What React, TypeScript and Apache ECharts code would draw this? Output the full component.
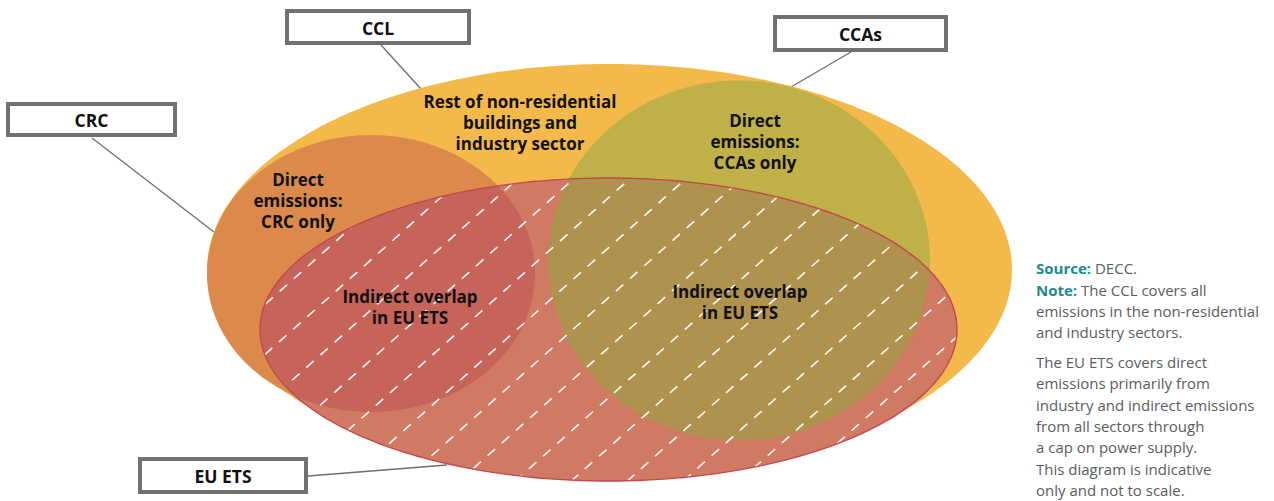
import React, { useEffect, useRef } from "react";
import * as echarts from "echarts";

// ---------------- data ----------------
// The four schemes drawn as ellipses (diagram units = chart axis units)
const setNames = ["CCL", "CRC", "CCAs", "EU ETS"];
const setCenterX = [609.5, 371, 739, 608.5];
const setCenterY = [270, 273.5, 260.5, 329.5];
const setRadiusX = [402.5, 164, 191, 348.5];
const setRadiusY = [206, 138.5, 180, 151.5];
const setColors = ["#F4B94B", "#DB8A4B", "#BFB047", "#D07963"];
// overlaps of EU ETS with CRC and with CCAs
const overlapPairs = [[1, 3], [2, 3]];
const overlapColors = ["#C6645A", "#B0924F"];

// region labels
const regionTexts = [
  "Rest of non-residential\nbuildings and\nindustry sector",
  "Direct\nemissions:\nCRC only",
  "Direct\nemissions:\nCCAs only",
  "Indirect overlap\nin EU ETS",
  "Indirect overlap\nin EU ETS",
];
const regionX = [520, 298, 755, 410, 740];
const regionY = [122, 200, 141, 307, 302];

// boxed scheme labels and their leader lines
const boxLabels = ["CRC", "CCL", "CCAs", "EU ETS"];
const boxLeft = [8, 287, 775, 140];
const boxTop = [104, 11, 17, 459];
const boxWidth = [167, 182, 171, 166];
const boxHeight = [31, 32, 33, 33];
const leaderX1 = [92, 381, 851, 308];
const leaderY1 = [138, 45, 52, 476];
const leaderX2 = [214, 421, 791, 447];
const leaderY2 = [232, 89, 87, 465];

// notes
const notesBlock1 = [
  "{b|Source:} DECC.",
  "{b|Note:} The CCL covers all",
  "emissions in the non-residential",
  "and industry sectors.",
];
const notesBlock2 = [
  "The EU ETS covers direct",
  "emissions primarily from",
  "industry and indirect emissions",
  "from all sectors through",
  "a cap on power supply.",
  "This diagram is indicative",
  "only and not to scale.",
];

// hatch pattern inside EU ETS
const HATCH_SLOPE = 1.12; // x + k*y = c
const HATCH_SPACING = 56;
const HATCH_C0 = 46;
const HATCH_DASH = [10, 9];
const HATCH_YREF = 443.3;

// ---------------- geometry helpers ----------------
type Pt = [number, number];

function ellipsePoints(i: number, n = 260): Pt[] {
  const pts: Pt[] = [];
  for (let k = 0; k < n; k++) {
    const t = (2 * Math.PI * k) / n;
    pts.push([
      setCenterX[i] + setRadiusX[i] * Math.cos(t),
      setCenterY[i] + setRadiusY[i] * Math.sin(t),
    ]);
  }
  return pts;
}

function clipPolygon(subject: Pt[], clip: Pt[]): Pt[] {
  let output = subject;
  for (let i = 0; i < clip.length; i++) {
    const a = clip[i];
    const b = clip[(i + 1) % clip.length];
    const input = output;
    output = [];
    if (!input.length) break;
    const side = (p: Pt) =>
      (b[0] - a[0]) * (p[1] - a[1]) - (b[1] - a[1]) * (p[0] - a[0]);
    const inter = (p: Pt, q: Pt): Pt => {
      const d1 = side(p);
      const d2 = side(q);
      const t = d1 / (d1 - d2);
      return [p[0] + t * (q[0] - p[0]), p[1] + t * (q[1] - p[1])];
    };
    for (let j = 0; j < input.length; j++) {
      const cur = input[j];
      const prev = input[(j + input.length - 1) % input.length];
      const ci = side(cur) >= 0;
      const pi = side(prev) >= 0;
      if (ci) {
        if (!pi) output.push(inter(prev, cur));
        output.push(cur);
      } else if (pi) {
        output.push(inter(prev, cur));
      }
    }
  }
  return output;
}

function hatchSegments(i: number) {
  const cx = setCenterX[i], cy = setCenterY[i], rx = setRadiusX[i], ry = setRadiusY[i];
  const K = HATCH_SLOPE;
  const half = Math.sqrt(rx * rx + K * K * ry * ry);
  const cMin = cx + K * cy - half;
  const cMax = cx + K * cy + half;
  const segs: { a: Pt; b: Pt; y0: number }[] = [];
  const kStart = Math.ceil((cMin - HATCH_C0) / HATCH_SPACING);
  for (let n = kStart; HATCH_C0 + n * HATCH_SPACING < cMax; n++) {
    const c = HATCH_C0 + n * HATCH_SPACING;
    const A = c - cx;
    const qa = (K * K) / (rx * rx) + 1 / (ry * ry);
    const qb = (-2 * A * K) / (rx * rx) - (2 * cy) / (ry * ry);
    const qc = (A * A) / (rx * rx) + (cy * cy) / (ry * ry) - 1;
    const disc = qb * qb - 4 * qa * qc;
    if (disc <= 0) continue;
    const s = Math.sqrt(disc);
    const yTop = (-qb - s) / (2 * qa);
    const yBot = (-qb + s) / (2 * qa);
    if (yBot - yTop < 2) continue;
    segs.push({ a: [c - K * yBot, yBot], b: [c - K * yTop, yTop], y0: yBot });
  }
  return segs;
}

// ---------------- layers ----------------
type Layer =
  | { kind: "set"; set: number; color: string }
  | { kind: "overlap"; pair: number[]; color: string }
  | { kind: "hatch"; set: number }
  | { kind: "border"; set: number; color: string }
  | { kind: "label"; idx: number };

const layers: Layer[] = [
  { kind: "set", set: 0, color: setColors[0] },
  { kind: "set", set: 1, color: setColors[1] },
  { kind: "set", set: 2, color: setColors[2] },
  { kind: "set", set: 3, color: setColors[3] },
  { kind: "overlap", pair: overlapPairs[0], color: overlapColors[0] },
  { kind: "overlap", pair: overlapPairs[1], color: overlapColors[1] },
  { kind: "hatch", set: 3 },
  { kind: "border", set: 3, color: "#C4474C" },
  ...regionTexts.map((_, idx) => ({ kind: "label", idx } as Layer)),
];

const FONT = "'Open Sans', 'DejaVu Sans', sans-serif";

export default function App() {
  const ref = useRef<HTMLDivElement>(null);

  useEffect(() => {
    if (!ref.current) return;
    const chart = echarts.init(ref.current, undefined, { renderer: "svg" });

    const renderItem = (params: any, api: any) => {
      const layer = layers[params.dataIndex];
      const map = (p: Pt) => api.coord(p);
      if (layer.kind === "set") {
        return {
          type: "polygon",
          shape: { points: ellipsePoints(layer.set).map(map) },
          style: { fill: layer.color, stroke: null },
          silent: true,
        };
      }
      if (layer.kind === "overlap") {
        const pts = clipPolygon(ellipsePoints(layer.pair[0]), ellipsePoints(layer.pair[1]));
        return {
          type: "polygon",
          shape: { points: pts.map(map) },
          style: { fill: layer.color, stroke: null },
          silent: true,
        };
      }
      if (layer.kind === "hatch") {
        const L = Math.sqrt(1 + HATCH_SLOPE * HATCH_SLOPE);
        const period = HATCH_DASH[0] + HATCH_DASH[1];
        return {
          type: "group",
          silent: true,
          children: hatchSegments(layer.set).map((s) => {
            const a = map(s.a);
            const b = map(s.b);
            const sStart = (HATCH_YREF - s.y0) * L;
            const off = ((sStart % period) + period) % period;
            return {
              type: "line",
              shape: { x1: a[0], y1: a[1], x2: b[0], y2: b[1] },
              style: {
                stroke: "#FFFFFF",
                lineWidth: 1.6,
                lineDash: HATCH_DASH,
                lineDashOffset: off,
                opacity: 0.95,
              },
            };
          }),
        };
      }
      if (layer.kind === "border") {
        return {
          type: "polygon",
          shape: { points: ellipsePoints(layer.set).map(map) },
          style: { fill: null, stroke: layer.color, lineWidth: 1.4 },
          silent: true,
        };
      }
      // label
      const p = map([regionX[layer.idx], regionY[layer.idx]]);
      return {
        type: "text",
        x: p[0],
        y: p[1],
        silent: true,
        style: {
          text: regionTexts[layer.idx],
          fill: "#111111",
          fontFamily: FONT,
          fontWeight: "bold",
          fontSize: 17,
          lineHeight: 21,
          align: "center",
          verticalAlign: "middle",
          textAlign: "center",
          textVerticalAlign: "middle",
        },
      };
    };

    const graphics: any[] = [];
    boxLabels.forEach((lab, i) => {
      graphics.push({
        type: "line",
        silent: true,
        shape: { x1: leaderX1[i], y1: leaderY1[i], x2: leaderX2[i], y2: leaderY2[i] },
        style: { stroke: "#6D6E70", lineWidth: 1.3 },
        z: 1,
      });
    });
    boxLabels.forEach((lab, i) => {
      graphics.push({
        type: "rect",
        silent: true,
        shape: { x: boxLeft[i], y: boxTop[i], width: boxWidth[i], height: boxHeight[i] },
        style: { fill: "#FFFFFF", stroke: "#707173", lineWidth: 4 },
        z: 3,
      });
      graphics.push({
        type: "text",
        silent: true,
        x: boxLeft[i] + boxWidth[i] / 2,
        y: boxTop[i] + boxHeight[i] / 2 + 0.5,
        style: {
          text: lab,
          fill: "#111111",
          fontFamily: FONT,
          fontWeight: "bold",
          fontSize: 17.5,
          align: "center",
          verticalAlign: "middle",
        },
        z: 4,
      });
    });
    const noteStyle = (lines: string[], y: number) => ({
      type: "text",
      silent: true,
      x: 1036,
      y,
      style: {
        text: lines.join("\n"),
        fill: "#5B5C5E",
        fontFamily: FONT,
        fontWeight: 400,
        fontSize: 15,
        lineHeight: 21.4,
        align: "left",
        verticalAlign: "top",
        rich: {
          b: {
            fill: "#1D8A8F",
            fontWeight: "bold",
            fontFamily: FONT,
            fontSize: 15,
            lineHeight: 21.4,
          },
        },
      },
      z: 4,
    });
    graphics.push(noteStyle(notesBlock1, 257.5));
    graphics.push(noteStyle(notesBlock2, 351));

    chart.setOption({
      animation: false,
      backgroundColor: "#FFFFFF",
      grid: { left: 0, right: 0, top: 0, bottom: 0 },
      xAxis: { type: "value", min: 0, max: 1274, show: false },
      yAxis: { type: "value", min: 0, max: 501, inverse: true, show: false },
      series: [
        {
          type: "custom",
          name: setNames.join(" / "),
          coordinateSystem: "cartesian2d",
          clip: false,
          silent: true,
          data: layers.map((_, i) => [i]),
          renderItem,
          z: 2,
        },
      ],
      graphic: graphics,
    });

    return () => chart.dispose();
  }, []);

  return (
    <div
      ref={ref}
      style={{ position: "fixed", left: 0, top: 0, width: 1274, height: 501, background: "#FFFFFF" }}
    />
  );
}
